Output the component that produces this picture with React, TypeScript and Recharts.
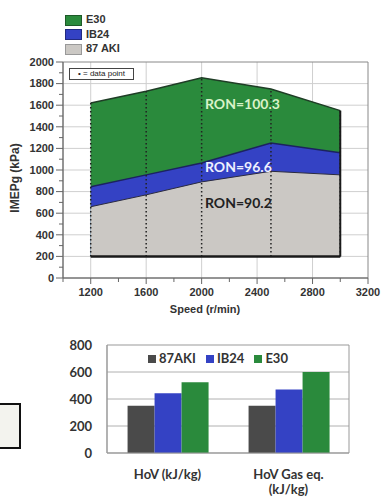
import React from 'react';
import {
  ComposedChart,
  Area,
  XAxis,
  YAxis,
  CartesianGrid,
  ReferenceLine,
  ReferenceArea,
  BarChart,
  Bar,
} from 'recharts';

// top chart: IMEPg limits vs speed
const SPEED = [1200, 1600, 2000, 2500, 3000];
const AKI87 = [660, 770, 890, 988, 955];
const IB24 = [845, 955, 1065, 1250, 1160];
const E30 = [1620, 1730, 1855, 1750, 1550];
const BASE_IMEP = 200;

const SPEED_TICKS = [1000, 1200, 1400, 1600, 1800, 2000, 2200, 2400, 2600, 2800, 3000, 3200];
const SPEED_LABELS = [1200, 1600, 2000, 2400, 2800, 3200];
const IMEP_TICKS = [0, 100, 200, 300, 400, 500, 600, 700, 800, 900, 1000, 1100, 1200, 1300, 1400, 1500, 1600, 1700, 1800, 1900, 2000];
const IMEP_GRID = [200, 400, 600, 800, 1000, 1200, 1400, 1600, 1800];

// bottom chart: heat of vaporization
const HOV_CATS = ['HoV (kJ/kg)', 'HoV Gas eq.\n(kJ/kg)'];
const HOV_AKI87 = [350, 350];
const HOV_IB24 = [443, 470];
const HOV_E30 = [525, 600];
const HOV_TICKS = [0, 200, 400, 600, 800];

const GREEN = '#2a8a3c';
const BLUE = '#3442c4';
const LIGHT_GRAY = '#cbc8c4';
const DARK_GRAY = '#4a4a4a';

const topData = SPEED.map((s, i) => ({ speed: s, aki87: AKI87[i], ib24: IB24[i], e30: E30[i] }));
const hovData = HOV_CATS.map((c, i) => ({ cat: c, aki87: HOV_AKI87[i], ib24: HOV_IB24[i], e30: HOV_E30[i] }));

const ARIAL = '"Liberation Sans", Arial, sans-serif';
const CALIBRI = 'Lato, "Open Sans", sans-serif';

function ImepTick({ x, y, payload }: any) {
  const major = payload.value % 200 === 0;
  return (
    <g>
      <line x1={x - (major ? 7 : 4)} x2={x} y1={y} y2={y} stroke="#666" />
      {major && (
        <text x={x - 9} y={y} dy="0.35em" textAnchor="end" fontFamily={ARIAL} fontWeight="bold" fontSize={11} fill="#333">
          {payload.value}
        </text>
      )}
    </g>
  );
}

function SpeedTick({ x, y, payload }: any) {
  const major = SPEED_LABELS.includes(payload.value);
  return (
    <g>
      <line x1={x} x2={x} y1={y} y2={y + (major ? 6 : 4)} stroke="#666" />
      {major && (
        <text x={x} y={y + 14} dy="0.35em" textAnchor="middle" fontFamily={ARIAL} fontWeight="bold" fontSize={11} fill="#333">
          {payload.value}
        </text>
      )}
    </g>
  );
}

function HovYTick({ x, y, payload }: any) {
  return (
    <text x={x - 15} y={y} dy="0.35em" textAnchor="end" fontFamily={CALIBRI} fontWeight="bold" fontSize={13} fill="#333">
      {payload.value}
    </text>
  );
}

function HovXTick({ x, y, payload }: any) {
  const lines = String(payload.value).split('\n');
  return (
    <g>
      {lines.map((l, i) => (
        <text key={i} x={x} y={y + 21 + i * 15} dy="0.35em" textAnchor="middle" fontFamily={CALIBRI} fontWeight="bold" fontSize={13} fill="#333">
          {l}
        </text>
      ))}
    </g>
  );
}

const swatch = (color: string, border: string) => ({
  display: 'inline-block',
  width: 17,
  height: 11,
  background: color,
  border: `1px solid ${border}`,
  boxSizing: 'border-box' as const,
  marginRight: 4,
  verticalAlign: 'middle',
});

export default function App() {
  return (
    <div style={{ position: 'absolute', left: 0, top: 0, width: 385, height: 497, background: '#fff', overflow: 'hidden' }}>
      {/* legend of the area chart */}
      <div style={{ position: 'absolute', left: 65, top: 12, fontFamily: ARIAL, fontWeight: 'bold', fontSize: 11, color: '#333', lineHeight: '14.5px' }}>
        <div><span style={swatch(GREEN, '#1d5a28')} />E30</div>
        <div><span style={swatch(BLUE, '#222a80')} />IB24</div>
        <div><span style={swatch(LIGHT_GRAY, '#999')} />87 AKI</div>
      </div>

      <div style={{ position: 'absolute', left: 0, top: 0 }}>
        <ComposedChart width={385} height={320} data={topData} margin={{ top: 62, right: 17, bottom: 12, left: 0 }}>
          <CartesianGrid stroke="#cfcfcf" verticalValues={[1200, 1600, 2000, 2400, 2800]} horizontalValues={IMEP_GRID} />
          <XAxis
            dataKey="speed"
            type="number"
            domain={[1000, 3200]}
            ticks={SPEED_TICKS}
            interval={0}
            tickSize={0}
            tickMargin={0}
            tick={<SpeedTick />}
            height={30}
            stroke="#666"
          />
          <YAxis
            type="number"
            domain={[0, 2000]}
            ticks={IMEP_TICKS}
            interval={0}
            tickSize={0}
            tickMargin={0}
            tick={<ImepTick />}
            width={63}
            stroke="#666"
          />
          <ReferenceArea x1={1000} x2={3200} y1={0} y2={2000} fill="none" stroke="#888" />
          <Area type="linear" dataKey="e30" baseValue={BASE_IMEP} fill={GREEN} fillOpacity={1} stroke="#1f3d26" strokeWidth={1.5} isAnimationActive={false} />
          <Area type="linear" dataKey="ib24" baseValue={BASE_IMEP} fill={BLUE} fillOpacity={1} stroke="#1c2260" strokeWidth={1.5} isAnimationActive={false} />
          <Area type="linear" dataKey="aki87" baseValue={BASE_IMEP} fill={LIGHT_GRAY} fillOpacity={1} stroke="#2a2a40" strokeWidth={1} isAnimationActive={false} />
          {SPEED.map((s, i) => (
            <ReferenceLine
              key={s}
              segment={[{ x: s, y: BASE_IMEP }, { x: s, y: E30[i] }]}
              stroke="#222"
              strokeWidth={1.5}
              strokeDasharray="1.5 2.5"
            />
          ))}
          <ReferenceLine segment={[{ x: SPEED[0], y: BASE_IMEP }, { x: SPEED[SPEED.length - 1], y: BASE_IMEP }]} stroke="#1a1a1a" strokeWidth={2.5} />
          <ReferenceLine segment={[{ x: SPEED[SPEED.length - 1], y: BASE_IMEP }, { x: SPEED[SPEED.length - 1], y: E30[E30.length - 1] }]} stroke="#1a1a1a" strokeWidth={2} />
        </ComposedChart>
      </div>

      {/* annotations */}
      <div style={{ position: 'absolute', left: 69, top: 68, width: 65, height: 12, border: '1px solid #444', background: '#fff', fontFamily: ARIAL, fontSize: 8, lineHeight: '10px', textAlign: 'center', color: '#222', boxSizing: 'border-box', whiteSpace: 'nowrap' }}>
        • = data point
      </div>
      <div style={{ position: 'absolute', left: 205, top: 95, fontFamily: CALIBRI, fontWeight: 'bold', fontSize: 14, color: '#d9f2c8' }}>RON=100.3</div>
      <div style={{ position: 'absolute', left: 205, top: 158, fontFamily: CALIBRI, fontWeight: 'bold', fontSize: 14, color: '#eef0ff' }}>RON=96.6</div>
      <div style={{ position: 'absolute', left: 205, top: 194, fontFamily: CALIBRI, fontWeight: 'bold', fontSize: 14, color: '#222' }}>RON=90.2</div>
      <div style={{ position: 'absolute', left: 0, top: 303, width: 385, textAlign: 'center', paddingLeft: 25, boxSizing: 'border-box', fontFamily: ARIAL, fontWeight: 'bold', fontSize: 11, color: '#333' }}>
        Speed (r/min)
      </div>
      <div style={{ position: 'absolute', left: 15, top: 178, transform: 'translate(-50%, -50%) rotate(-90deg)', whiteSpace: 'nowrap', fontFamily: ARIAL, fontWeight: 'bold', fontSize: 12, color: '#333' }}>
        IMEPg (kPa)
      </div>

      {/* bar chart */}
      <div style={{ position: 'absolute', left: 0, top: 320 }}>
        <BarChart width={385} height={177} data={hovData} margin={{ top: 25, right: 36, bottom: 4, left: 0 }} barCategoryGap="17%" barGap={0}>
          <CartesianGrid stroke="#b0b0b0" vertical={false} horizontalValues={[200, 400, 600]} />
          <XAxis dataKey="cat" interval={0} tickSize={0} tickMargin={0} tick={<HovXTick />} height={40} stroke="#999" />
          <YAxis domain={[0, 800]} ticks={HOV_TICKS} interval={0} tickSize={0} tickMargin={0} tick={<HovYTick />} width={107} stroke="#999" />
          <ReferenceArea y1={0} y2={800} fill="none" stroke="#999" />
          <Bar dataKey="aki87" fill={DARK_GRAY} isAnimationActive={false} />
          <Bar dataKey="ib24" fill={BLUE} isAnimationActive={false} />
          <Bar dataKey="e30" fill={GREEN} isAnimationActive={false} />
        </BarChart>
      </div>
      <div style={{ position: 'absolute', left: 148, top: 350, fontFamily: CALIBRI, fontWeight: 'bold', fontSize: 13, color: '#333', whiteSpace: 'nowrap', lineHeight: '16px' }}>
        <span style={{ display: 'inline-block', width: 8, height: 8, background: DARK_GRAY, marginRight: 3 }} />87AKI
        <span style={{ display: 'inline-block', width: 8, height: 8, background: BLUE, margin: '0 3px 0 10px' }} />IB24
        <span style={{ display: 'inline-block', width: 8, height: 8, background: GREEN, margin: '0 3px 0 10px' }} />E30
      </div>

      {/* partial box at the left edge */}
      <div style={{ position: 'absolute', left: -4, top: 403, width: 25, height: 46, border: '2.5px solid #111', background: '#f3f3ee', boxSizing: 'border-box' }} />
    </div>
  );
}
